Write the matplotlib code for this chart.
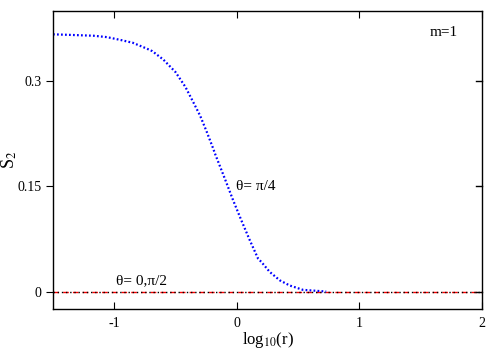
import numpy as np
import matplotlib
matplotlib.use("Agg")
import matplotlib.pyplot as plt

# values (log10 r, S2) for theta = pi/4
logr = [-1.50, -1.33, -1.17, -1.06, -0.95, -0.85, -0.74, -0.69, -0.60,
        -0.50, -0.42, -0.355, -0.30, -0.246, -0.193, -0.179, -0.098,
        -0.030, 0.038, 0.106, 0.173, 0.201, 0.268, 0.350, 0.431, 0.539,
        0.729, 2.0]
s2 = [0.367, 0.366, 0.365, 0.363, 0.359, 0.355, 0.347, 0.343, 0.331,
      0.313, 0.292, 0.270, 0.251, 0.228, 0.204, 0.197, 0.161,
      0.130, 0.101, 0.073, 0.047, 0.042, 0.028, 0.016, 0.0086, 0.0024,
      0.0, 0.0]
flat_x = [-1.5, 2.0]
flat_y = [0.0, 0.0]

plt.rcParams['font.family'] = ['Liberation Serif', 'DejaVu Serif']
plt.rcParams['mathtext.fontset'] = 'stix'

fig = plt.figure(figsize=(5, 3.5), dpi=100)
ax = fig.add_axes([0.106, 0.117, 0.858, 0.851])

# theta = 0, pi/2 line (red dashed with black dots on top)
ax.plot(flat_x, flat_y, color='red', lw=1, ls=(0, (4, 3)))
ax.plot(flat_x, flat_y, color='black', lw=1, ls=(0, (1, 2)))

# theta = pi/4 curve, only the part where it is above zero
x = np.array(logr)
y = np.array(s2)
keep = x <= 0.75
ax.plot(x[keep], y[keep], color='blue', lw=1.6, ls=(0, (0.8, 1.0)))

ax.set_xlim(-1.5, 2)
ax.set_ylim(-0.025, 0.4)
ax.set_xticks([-1, 0, 1, 2])
ax.set_xticklabels(['-1', '0', '1', '2'])
ax.set_yticks([0, 0.15, 0.3])
ax.set_yticklabels(['0', '0.15', '0.3'])

ax.tick_params(axis='x', direction='in', top=True, length=5, labelsize=10, pad=6)
ax.tick_params(axis='y', direction='out', length=5, labelsize=10)
ax.tick_params(axis='y', which='both', right=False)
for yt in [0, 0.15, 0.3]:
    ax.plot([1.0, 0.985], [yt, yt], transform=ax.get_yaxis_transform(),
            color='black', lw=1, clip_on=False)

for s in ax.spines.values():
    s.set_linewidth(1)

ax.set_xlabel(r'log$_{10}$(r)', fontsize=12, labelpad=0)
ax.set_ylabel(r'S$_2$', fontsize=13)
ax.yaxis.set_label_coords(-0.08, 0.5)

ax.text(1.57, 0.37, 'm=1', fontsize=11, va='center')
ax.text(-0.005, 0.15, 'θ= π/4', fontsize=11, va='center')
ax.text(-0.99, 0.016, 'θ= 0,π/2', fontsize=11, va='center')

fig.savefig('out.png', dpi=100)
